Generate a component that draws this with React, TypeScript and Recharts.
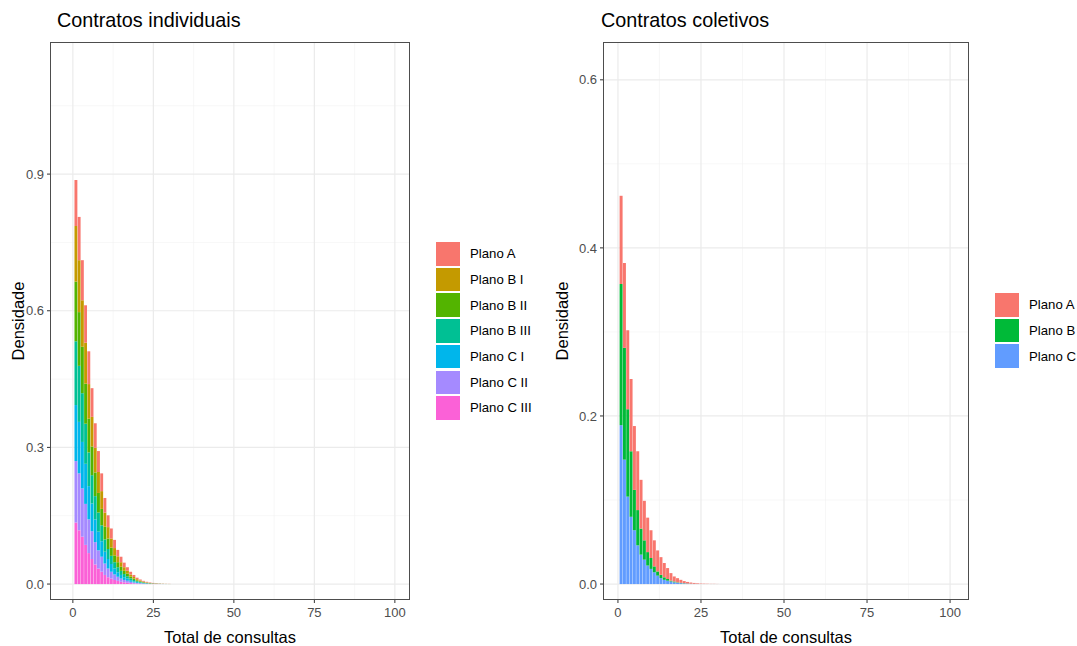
import { BarChart, Bar, XAxis, YAxis, CartesianGrid } from 'recharts'

// bins of "Total de consultas" (binwidth 1, centred on the integer)
const bins = [1, 2, 3, 4, 5, 6, 7, 8, 9, 10, 11, 12, 13, 14, 15, 16, 17, 18, 19, 20, 21, 22, 23, 24, 25, 26, 27, 28, 29, 30]

// Contratos individuais - densidade por plano
const indPlanoA = [0.101, 0.095, 0.088, 0.082, 0.072, 0.063, 0.054, 0.046, 0.039, 0.032, 0.026, 0.022, 0.018, 0.014, 0.012, 0.01, 0.008, 0.006, 0.0045, 0.0033, 0.0023, 0.0017, 0.0013, 0.001, 0.0008, 0.0006, 0.0004, 0.0003, 0.0002, 0.0002]
const indPlanoBI = [0.122, 0.114, 0.102, 0.09, 0.076, 0.065, 0.054, 0.046, 0.039, 0.031, 0.025, 0.02, 0.016, 0.013, 0.01, 0.008, 0.006, 0.0045, 0.0035, 0.0025, 0.0018, 0.0012, 0.0009, 0.0006, 0.0004, 0.0003, 0.0002, 0.0002, 0.0001, 0.0001]
const indPlanoBII = [0.131, 0.118, 0.102, 0.088, 0.074, 0.063, 0.052, 0.043, 0.036, 0.028, 0.023, 0.018, 0.015, 0.011, 0.009, 0.007, 0.006, 0.004, 0.003, 0.002, 0.0015, 0.001, 0.0007, 0.0005, 0.0004, 0.0003, 0.0002, 0.0001, 0.0001, 0.0001]
const indPlanoBIII = [0.14, 0.123, 0.107, 0.088, 0.074, 0.062, 0.051, 0.042, 0.035, 0.027, 0.022, 0.018, 0.014, 0.011, 0.009, 0.007, 0.005, 0.004, 0.003, 0.002, 0.0014, 0.001, 0.0007, 0.0005, 0.0003, 0.0002, 0.0002, 0.0001, 0.0001, 0]
const indPlanoCI = [0.123, 0.113, 0.102, 0.088, 0.073, 0.061, 0.05, 0.041, 0.034, 0.026, 0.021, 0.017, 0.013, 0.01, 0.008, 0.006, 0.005, 0.0035, 0.0025, 0.0018, 0.0013, 0.0009, 0.0006, 0.0004, 0.0003, 0.0002, 0.0001, 0.0001, 0, 0]
const indPlanoCII = [0.135, 0.125, 0.106, 0.09, 0.074, 0.061, 0.049, 0.04, 0.033, 0.025, 0.019, 0.015, 0.012, 0.009, 0.007, 0.005, 0.004, 0.003, 0.002, 0.0014, 0.001, 0.0007, 0.0005, 0.0003, 0.0002, 0.0001, 0.0001, 0, 0, 0]
const indPlanoCIII = [0.135, 0.118, 0.104, 0.086, 0.068, 0.055, 0.043, 0.034, 0.027, 0.02, 0.015, 0.012, 0.009, 0.007, 0.005, 0.004, 0.003, 0.002, 0.0015, 0.001, 0.0007, 0.0005, 0.0003, 0.0002, 0.0001, 0.0001, 0, 0, 0, 0]

// Contratos coletivos - densidade por plano
const colPlanoA = [0.105, 0.101, 0.094, 0.086, 0.076, 0.07, 0.058, 0.047, 0.041, 0.033, 0.031, 0.025, 0.021, 0.017, 0.013, 0.009, 0.006, 0.005, 0.0036, 0.0025, 0.0018, 0.0014, 0.001, 0.0007, 0.0005, 0.0004, 0.0003, 0.0002, 0.0002, 0.0001]
const colPlanoB = [0.168, 0.133, 0.104, 0.078, 0.048, 0.042, 0.031, 0.023, 0.016, 0.013, 0.007, 0.005, 0.004, 0.003, 0.002, 0.001, 0.001, 0.0005, 0.0004, 0.0003, 0.0002, 0.0001, 0.0001, 0, 0, 0, 0, 0, 0, 0]
const colPlanoC = [0.189, 0.148, 0.104, 0.08, 0.064, 0.046, 0.035, 0.029, 0.022, 0.018, 0.014, 0.01, 0.007, 0.005, 0.004, 0.003, 0.002, 0.0015, 0.001, 0.0007, 0.0005, 0.0003, 0.0002, 0.0001, 0, 0, 0, 0, 0, 0]

const xTicks = [0, 25, 50, 75, 100]
const xMinor = [12.5, 37.5, 62.5, 87.5]
const indYTicks = [0, 0.3, 0.6, 0.9]
const indYMinor = [0.15, 0.45, 0.75, 1.05]
const colYTicks = [0, 0.2, 0.4, 0.6]
const colYMinor = [0.1, 0.3, 0.5]

const indSeries = [
  { key: 'Plano A', values: indPlanoA, color: '#F8766D' },
  { key: 'Plano B I', values: indPlanoBI, color: '#C49A00' },
  { key: 'Plano B II', values: indPlanoBII, color: '#53B400' },
  { key: 'Plano B III', values: indPlanoBIII, color: '#00C094' },
  { key: 'Plano C I', values: indPlanoCI, color: '#00B6EB' },
  { key: 'Plano C II', values: indPlanoCII, color: '#A58AFF' },
  { key: 'Plano C III', values: indPlanoCIII, color: '#FB61D7' },
]

const colSeries = [
  { key: 'Plano A', values: colPlanoA, color: '#F8766D' },
  { key: 'Plano B', values: colPlanoB, color: '#00BA38' },
  { key: 'Plano C', values: colPlanoC, color: '#619CFF' },
]

type Series = { key: string; values: number[]; color: string }

const FONT = '"Liberation Sans", Arial, sans-serif'

function buildRows(series: Series[]) {
  return bins.map((b, i) => {
    const row: Record<string, number> = { bin: b }
    series.forEach((s) => {
      row[s.key] = s.values[i]
    })
    return row
  })
}

interface PanelProps {
  left: number
  title: string
  series: Series[]
  // plot area in page pixels
  plot: { x0: number; x1: number; y0: number; y1: number }
  xDomain: [number, number]
  yDomain: [number, number]
  yTicks: number[]
  yMinor: number[]
  legendX: number
  legendY: number
}

function Panel({ left, title, series, plot, xDomain, yDomain, yTicks, yMinor, legendX, legendY }: PanelProps) {
  const rows = buildRows(series)
  const yAxisW = 40
  const width = plot.x1 + 10
  const height = 646
  const plotW = plot.x1 - plot.x0
  const barSize = plotW / (xDomain[1] - xDomain[0])
  const tickStyle = { fill: '#4D4D4D', fontSize: 13, fontFamily: FONT }

  return (
    <>
      <div style={{ position: 'absolute', left: 0, top: 0 }}>
        <BarChart
          width={width}
          height={height}
          data={rows}
          barCategoryGap={0}
          barGap={0}
          margin={{ top: plot.y0, left: plot.x0 - yAxisW, right: width - plot.x1, bottom: 0 }}
        >
          <CartesianGrid
            stroke="#F2F2F2"
            strokeWidth={0.6}
            horizontalValues={yMinor}
            verticalValues={xMinor}
          />
          <CartesianGrid
            stroke="#EBEBEB"
            strokeWidth={1.2}
            horizontalValues={yTicks}
            verticalValues={xTicks}
          />
          <XAxis
            dataKey="bin"
            type="number"
            domain={xDomain}
            allowDataOverflow
            ticks={xTicks}
            height={height - plot.y1}
            axisLine={false}
            tickLine={{ stroke: '#333333' }}
            tickSize={3}
            tickMargin={5}
            tick={tickStyle}
          />
          <YAxis
            type="number"
            domain={yDomain}
            allowDataOverflow
            ticks={yTicks}
            width={yAxisW}
            axisLine={false}
            tickLine={{ stroke: '#333333' }}
            tickSize={3}
            tickMargin={3}
            tick={tickStyle}
            tickFormatter={(v: number) => v.toFixed(1)}
          />
          {[...series].reverse().map((s) => (
            <Bar
              key={s.key}
              dataKey={s.key}
              stackId="h"
              fill={s.color}
              barSize={barSize + 0.3}
              isAnimationActive={false}
            />
          ))}
        </BarChart>
      </div>
      {/* panel border */}
      <div
        style={{
          position: 'absolute',
          left: plot.x0,
          top: plot.y0,
          width: plotW,
          height: plot.y1 - plot.y0,
          border: '1px solid #4D4D4D',
          boxSizing: 'border-box',
          pointerEvents: 'none',
        }}
      />
      <div style={{ position: 'absolute', left: left + 7, top: 9, fontSize: 19.8, fontFamily: FONT, color: '#000' }}>
        {title}
      </div>
      <div
        style={{
          position: 'absolute',
          left: plot.x0,
          width: plotW,
          top: 629,
          height: 16,
          lineHeight: '16px',
          textAlign: 'center',
          fontSize: 16.5,
          fontFamily: FONT,
          color: '#000',
        }}
      >
        Total de consultas
      </div>
      <div
        style={{
          position: 'absolute',
          left: left - 50 + 8,
          top: (plot.y0 + plot.y1) / 2,
          transform: 'translate(-50%, -50%) rotate(-90deg)',
          transformOrigin: 'center',
          fontSize: 16.5,
          fontFamily: FONT,
          color: '#000',
          whiteSpace: 'nowrap',
          marginLeft: 10,
        }}
      >
        Densidade
      </div>
      <div style={{ position: 'absolute', left: legendX, top: legendY }}>
        {series.map((s) => (
          <div key={s.key} style={{ display: 'flex', alignItems: 'center', height: 25.7 }}>
            <div style={{ width: 24, height: 23.5, background: s.color }} />
            <span style={{ marginLeft: 10, fontSize: 13.2, fontFamily: FONT, color: '#000' }}>{s.key}</span>
          </div>
        ))}
      </div>
    </>
  )
}

export default function App() {
  return (
    <div style={{ position: 'absolute', left: 0, top: 0, width: 1077, height: 646, background: '#fff', overflow: 'hidden' }}>
      <Panel
        left={50}
        title="Contratos individuais"
        series={indSeries}
        plot={{ x0: 50, x1: 410, y0: 42, y1: 600 }}
        xDomain={[-7.1, 104.7]}
        yDomain={[-0.035, 1.19]}
        yTicks={indYTicks}
        yMinor={indYMinor}
        legendX={436}
        legendY={241}
      />
      <Panel
        left={594}
        title="Contratos coletivos"
        series={colSeries}
        plot={{ x0: 603, x1: 969, y0: 42, y1: 600 }}
        xDomain={[-4.5, 105.7]}
        yDomain={[-0.019, 0.645]}
        yTicks={colYTicks}
        yMinor={colYMinor}
        legendX={995}
        legendY={292}
      />
    </div>
  )
}
